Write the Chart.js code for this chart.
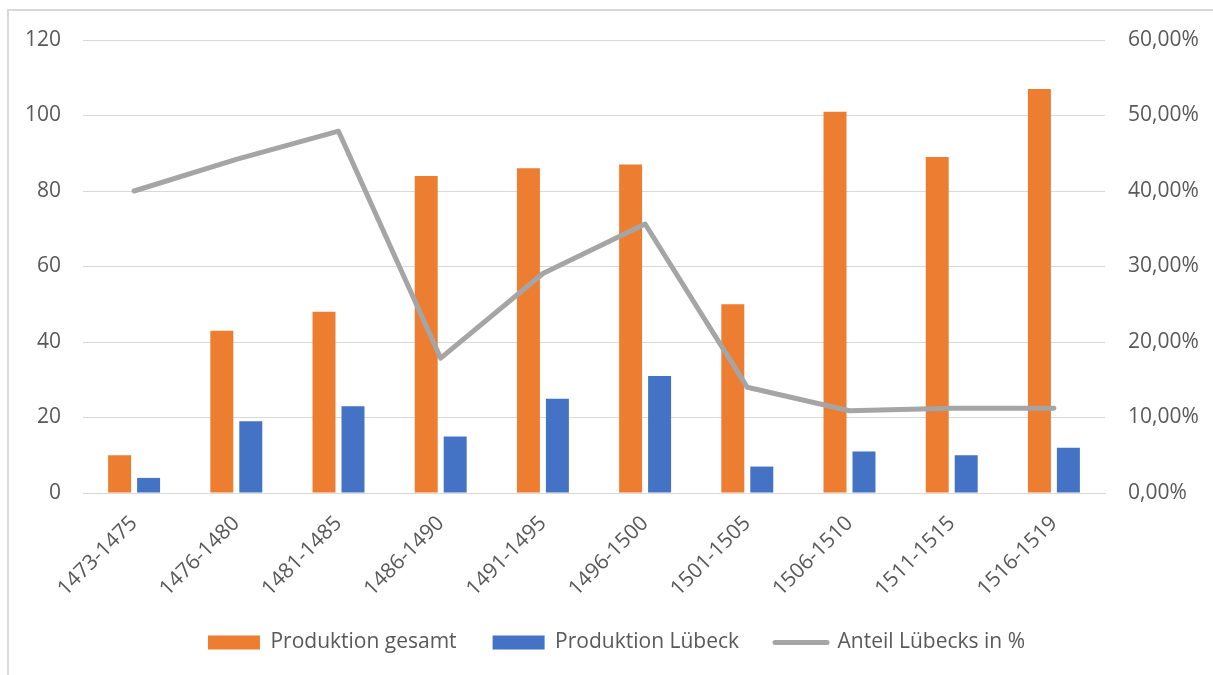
<!DOCTYPE html>
<html lang="de">
<head>
    <meta charset="UTF-8">
    <title>Produktion Lübeck</title>
    <style>
        body {
            margin: 0;
            background: #fff;
            overflow: hidden;
        }
        .frame {
            position: absolute;
            left: 7px;
            top: 9px;
            width: 1240px;
            height: 700px;
            border: 2px solid #d9d9d9;
        }
        #chart {
            position: absolute;
            left: 0;
            top: 0;
        }
    </style>
</head>
<body>
    <div class="frame"></div>
    <canvas id="chart" width="1213" height="675"></canvas>

    <script src="https://cdn.jsdelivr.net/npm/chart.js"></script>
    <script>
        // values
        const periods = ['1473-1475', '1476-1480', '1481-1485', '1486-1490', '1491-1495',
                         '1496-1500', '1501-1505', '1506-1510', '1511-1515', '1516-1519'];
        const produktionGesamt = [10, 43, 48, 84, 86, 87, 50, 101, 89, 107];
        const produktionLuebeck = [4, 19, 23, 15, 25, 31, 7, 11, 10, 12];
        const anteilLuebeck = [40.0, 44.19, 47.92, 17.86, 29.07, 35.63, 14.0, 10.89, 11.24, 11.21];

        const textColor = '#595959';
        const gridColor = '#d9d9d9';
        const font = { family: '"Open Sans", sans-serif', size: 21 };

        new Chart(document.getElementById('chart'), {
            type: 'bar',
            data: {
                labels: periods,
                datasets: [{
                    label: 'Produktion gesamt',
                    data: produktionGesamt,
                    backgroundColor: '#ED7D31',
                    borderColor: '#ED7D31',
                    yAxisID: 'y',
                    order: 2,
                    categoryPercentage: 0.567,
                    barPercentage: 0.793
                }, {
                    label: 'Produktion Lübeck',
                    data: produktionLuebeck,
                    backgroundColor: '#4472C4',
                    borderColor: '#4472C4',
                    yAxisID: 'y',
                    order: 3,
                    categoryPercentage: 0.567,
                    barPercentage: 0.793
                }, {
                    type: 'line',
                    label: 'Anteil Lübecks in %',
                    data: anteilLuebeck,
                    borderColor: '#A5A5A5',
                    backgroundColor: '#A5A5A5',
                    borderWidth: 5,
                    pointRadius: 0,
                    borderJoinStyle: 'round',
                    borderCapStyle: 'round',
                    tension: 0,
                    yAxisID: 'y1',
                    order: 1
                }]
            },
            options: {
                responsive: false,
                animation: false,
                layout: {
                    // left padding nudges the centred legend to the right, y axis width compensates
                    padding: { top: 40, left: 20, right: 0, bottom: 12 }
                },
                plugins: {
                    tooltip: { enabled: false },
                    legend: {
                        position: 'bottom',
                        labels: {
                            color: textColor,
                            font: font,
                            usePointStyle: true,
                            pointStyleWidth: 52,
                            boxHeight: 14,
                            padding: 36,
                            sort: (a, b) => a.datasetIndex - b.datasetIndex,
                            generateLabels: function (chart) {
                                const items = Chart.defaults.plugins.legend.labels.generateLabels(chart);
                                items.forEach(it => {
                                    if (it.datasetIndex === 2) {
                                        it.pointStyle = 'line';
                                        it.lineWidth = 5;
                                        it.lineCap = 'round';
                                    } else {
                                        it.pointStyle = 'rect';
                                        it.lineWidth = 0;
                                    }
                                });
                                return items;
                            }
                        }
                    }
                },
                scales: {
                    x: {
                        grid: { display: false, drawTicks: false },
                        border: { color: gridColor },
                        ticks: {
                            color: textColor,
                            font: font,
                            minRotation: 45,
                            maxRotation: 45,
                            padding: 18
                        },
                        afterFit: s => { s.height = 103; }
                    },
                    y: {
                        position: 'left',
                        min: 0,
                        max: 120,
                        grid: { color: gridColor, drawTicks: false },
                        border: { display: false },
                        ticks: {
                            stepSize: 20,
                            color: textColor,
                            font: font,
                            padding: 22
                        },
                        afterFit: s => { s.width = 63; }
                    },
                    y1: {
                        position: 'right',
                        min: 0,
                        max: 60,
                        grid: { display: false, drawTicks: false },
                        border: { display: false },
                        ticks: {
                            stepSize: 10,
                            color: textColor,
                            font: font,
                            padding: 23,
                            callback: v => v.toFixed(2).replace('.', ',') + '%'
                        },
                        afterFit: s => { s.width = 108; }
                    }
                }
            }
        });
    </script>
</body>
</html>
